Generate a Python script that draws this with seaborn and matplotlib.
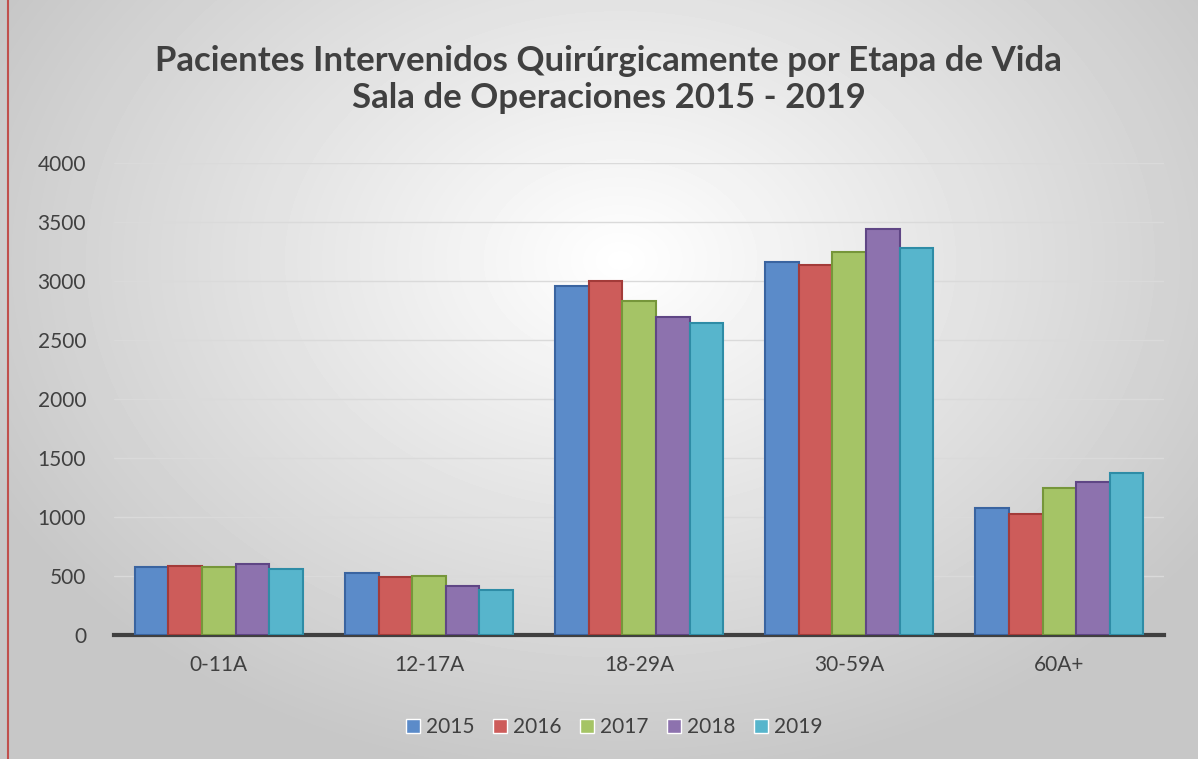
import pandas as pd
import seaborn as sns
import matplotlib.pyplot as plt
import numpy as np
from matplotlib.lines import Line2D

# Datos
categorias = ['0-11A', '12-17A', '18-29A', '30-59A', '60A+']
anios = ['2015', '2016', '2017', '2018', '2019']
v2015 = [580, 530, 2960, 3160, 1080]
v2016 = [585, 495, 3000, 3135, 1030]
v2017 = [580, 500, 2830, 3250, 1250]
v2018 = [600, 415, 2695, 3440, 1295]
v2019 = [560, 385, 2645, 3280, 1375]

colores = ['#5B8BC9', '#CD5C5A', '#A5C466', '#8D72AE', '#57B5CC']
bordes = ['#3A64A0', '#A33B39', '#76963A', '#5F4685', '#2E8CA6']

df = pd.DataFrame({
    'Etapa': categorias * 5,
    'Año': [a for a in anios for _ in categorias],
    'Pacientes': v2015 + v2016 + v2017 + v2018 + v2019,
})

sns.set_style("white")
plt.rcParams['font.family'] = ['Lato', 'DejaVu Sans']

fig = plt.figure(figsize=(11.98, 7.59), dpi=100)

# fondo degradado radial
bg = fig.add_axes([0, 0, 1, 1], zorder=-10)
yy, xx = np.mgrid[0:759, 0:1198]
r = np.sqrt(((xx - 620) / 700.0) ** 2 + ((yy - 260) / 520.0) ** 2)
g = np.clip(1.0 - 0.22 * r, 0.78, 1.0)
bg.imshow(g, cmap='gray', vmin=0, vmax=1, aspect='auto', extent=[0, 1, 0, 1])
bg.axis('off')
fig.add_artist(Line2D([0.007, 0.007], [0, 1], color='#C0504D', lw=1.5))

ax = fig.add_axes([0.095, 0.163, 0.877, 0.622])
ax.set_facecolor('none')
sns.barplot(data=df, x='Etapa', y='Pacientes', hue='Año', palette=colores,
            width=0.8, saturation=1, ax=ax, zorder=3)

# bordes de cada serie
for cont, bc in zip(ax.containers, bordes):
    for bar in cont:
        bar.set_edgecolor(bc)
        bar.set_linewidth(1.5)

ax.set_ylim(0, 4000)
ax.set_yticks(range(0, 4001, 500))
ax.yaxis.grid(True, color='#DADADA', lw=1.0, zorder=0)
ax.tick_params(axis='y', labelsize=15, labelcolor='#404040', length=0, pad=20)
ax.tick_params(axis='x', labelsize=15, labelcolor='#404040', length=0, pad=14)
for s in ['top', 'right', 'left']:
    ax.spines[s].set_visible(False)
ax.spines['bottom'].set_color('#404040')
ax.spines['bottom'].set_linewidth(3)
ax.set_xlabel('')
ax.set_ylabel('')

ax.legend(loc='center', bbox_to_anchor=(0.476, -0.195), ncol=5, frameon=False,
          fontsize=15, handlelength=0.7, handleheight=0.7, handletextpad=0.25,
          columnspacing=0.9, labelcolor='#404040')

fig.text(0.508, 0.895, 'Pacientes Intervenidos Quirúrgicamente por Etapa de Vida\nSala de Operaciones 2015 - 2019',
         ha='center', va='center', fontsize=25, fontweight='bold', color='#404040',
         linespacing=1.2)

plt.savefig('out.png', dpi=100)
